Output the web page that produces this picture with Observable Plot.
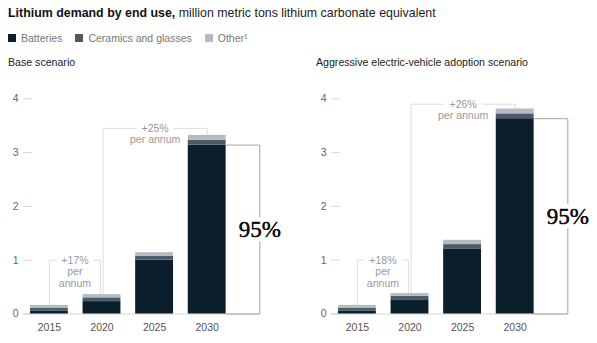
<!DOCTYPE html>
<html>
<head>
<meta charset="utf-8">
<script src="https://cdn.jsdelivr.net/npm/d3@7"></script>
<script src="https://cdn.jsdelivr.net/npm/@observablehq/plot@0.6"></script>
<style>
  body { margin: 0; width: 597px; height: 343px; position: relative; overflow: hidden; background: #fff;
         font-family: "Liberation Sans", Arial, sans-serif; }
  #title { position: absolute; left: 8px; top: 4px; font-size: 12.4px; line-height: 18px; color: #222; white-space: nowrap; }
  #title b { font-weight: bold; color: #111; }
  #legend { position: absolute; left: 8px; top: 31px; font-size: 10.5px; line-height: 14px; color: #777; display: flex; white-space: nowrap; }
  .item { display: flex; align-items: center; margin-right: 13px; }
  .sw { width: 8px; height: 8px; margin-right: 5px; }
  .panel { position: absolute; top: 54px; width: 289px; }
  .sub { height: 16px; line-height: 16px; font-size: 10.6px; color: #222; padding-left: 8px; white-space: nowrap; }
  .panel svg { display: block; }
</style>
</head>
<body>
<div id="title"></div>
<div id="legend"></div>
<div class="panel" id="p1" style="left:0px"></div>
<div class="panel" id="p2" style="left:308px"></div>
<script>
const titleBold = "Lithium demand by end use,";
const titleRest = "million metric tons lithium carbonate equivalent";
const years = [2015, 2020, 2025, 2030];
const seriesNames = ["Batteries", "Ceramics and glasses", "Other"];
const legendLabels = ["Batteries", "Ceramics and glasses", "Other\u00B9"];
const seriesColors = ["#0b1e2b", "#4b5c68", "#b5bcc1"];
const yTicks = [0, 1, 2, 3, 4];

const panelTitles = ["Base scenario", "Aggressive electric-vehicle adoption scenario"];

// Base scenario
const baseBatteries = [0.05, 0.23, 1.00, 3.14];
const baseCeramics  = [0.06, 0.07, 0.07, 0.09];
const baseOther     = [0.05, 0.06, 0.07, 0.09];
const baseGrowth    = ["+17%", "+25%"];
const baseShare     = "95%";

// Aggressive EV adoption scenario
const aggBatteries  = [0.05, 0.25, 1.21, 3.63];
const aggCeramics   = [0.06, 0.08, 0.08, 0.09];
const aggOther      = [0.05, 0.05, 0.08, 0.09];
const aggGrowth     = ["+18%", "+26%"];
const aggShare      = "95%";

// ---- header ----
document.getElementById("title").innerHTML = `<b>${titleBold}</b> ${titleRest}`;
const legend = document.getElementById("legend");
legendLabels.forEach((lab, i) => {
  const it = document.createElement("div"); it.className = "item";
  const sw = document.createElement("div"); sw.className = "sw"; sw.style.background = seriesColors[i];
  const tx = document.createElement("span"); tx.textContent = lab;
  it.appendChild(sw); it.appendChild(tx); legend.appendChild(it);
});

const SANS = "'Liberation Sans', Arial, sans-serif";
const SERIF = "'Liberation Serif', 'DejaVu Serif', serif";
const HALF = 1.8;          // half bar width in years
const BRACKET_X = 2035;    // share bracket column

function drawPanel(el, title, bat, cer, oth, growth, share, levels) {
  const sub = document.createElement("div"); sub.className = "sub"; sub.textContent = title;
  el.appendChild(sub);

  const rows = [];
  const totals = [];
  years.forEach((yr, i) => {
    let acc = 0;
    [bat, cer, oth].forEach((arr, k) => {
      rows.push({year: yr, series: seriesNames[k], y1: acc, y2: acc + arr[i]});
      acc += arr[i];
    });
    totals.push(acc);
  });

  const g1 = [[years[0], totals[0]], [years[0], levels[0]], [years[1] - 0.15, levels[0]], [years[1] - 0.15, totals[1]]];
  const g2 = [[years[1] + 0.1, totals[1]], [years[1] + 0.1, levels[1]], [years[3], levels[1]], [years[3], totals[3]]];
  const shareBr = [[years[3] + HALF, bat[3]], [BRACKET_X, bat[3]], [BRACKET_X, 0], [years[3] + HALF, 0]];

  const labels = [
    {x: (years[0] + years[1] - 0.15) / 2, y: levels[0], t: growth[0], sub: "per\nannum"},
    {x: (years[1] + 0.1 + years[3]) / 2, y: levels[1], t: growth[1], sub: "per annum"}
  ];

  const chart = Plot.plot({
    width: 289, height: 273,
    marginLeft: 32, marginRight: 0, marginTop: 28.3, marginBottom: 29.5,
    x: {domain: [2012.5, 2037.5], range: [22.6, 285.6]},
    y: {domain: [0, 4]},
    color: {domain: seriesNames, range: seriesColors},
    style: {fontFamily: SANS, background: "white", overflow: "visible"},
    marks: [
      Plot.axisY(yTicks, {tickSize: 9, tickPadding: 5, tickFormat: d => String(d), stroke: "#d8d8d8", fill: "#666", fontSize: 10.5, label: null}),
      Plot.ruleY([0], {x1: 2012.5, x2: BRACKET_X, stroke: "#d6d6d6"}),
      Plot.line(g1, {x: d => d[0], y: d => d[1], stroke: "#dcdcdc", strokeWidth: 1}),
      Plot.line(g2, {x: d => d[0], y: d => d[1], stroke: "#dcdcdc", strokeWidth: 1}),
      Plot.rect(rows, {x1: d => d.year - HALF, x2: d => d.year + HALF, y1: "y1", y2: "y2", fill: "series"}),
      Plot.line(shareBr, {x: d => d[0], y: d => d[1], stroke: "#a5a5a5", strokeWidth: 1}),
      Plot.text(labels, {x: "x", y: "y", text: "t", fill: "#999", stroke: "white", strokeWidth: 11, fontSize: 10.5}),
      Plot.text(labels, {x: "x", y: "y", text: "sub", fill: "#999", fontSize: 10.5, lineAnchor: "top", dy: 6.5, lineHeight: 1.14}),
      Plot.text([share], {x: BRACKET_X, y: bat[3] / 2, text: d => d, fontFamily: SERIF,
        fontSize: 23, fill: "#111", stroke: "white", strokeWidth: 10}),
      Plot.text([share], {x: BRACKET_X, y: bat[3] / 2, text: d => d, fontFamily: SERIF,
        fontSize: 23, fill: "#111", stroke: "#111", strokeWidth: 0.3}),
      Plot.axisX(years, {tickSize: 0, tickPadding: 9.5, tickFormat: d => String(d), fill: "#555", fontSize: 10.5, label: null})
    ]
  });
  el.appendChild(chart);
}

drawPanel(document.getElementById("p1"), panelTitles[0], baseBatteries, baseCeramics, baseOther, baseGrowth, baseShare, [1.0, 3.45]);
drawPanel(document.getElementById("p2"), panelTitles[1], aggBatteries, aggCeramics, aggOther, aggGrowth, aggShare, [1.0, 3.9]);
</script>
</body>
</html>
